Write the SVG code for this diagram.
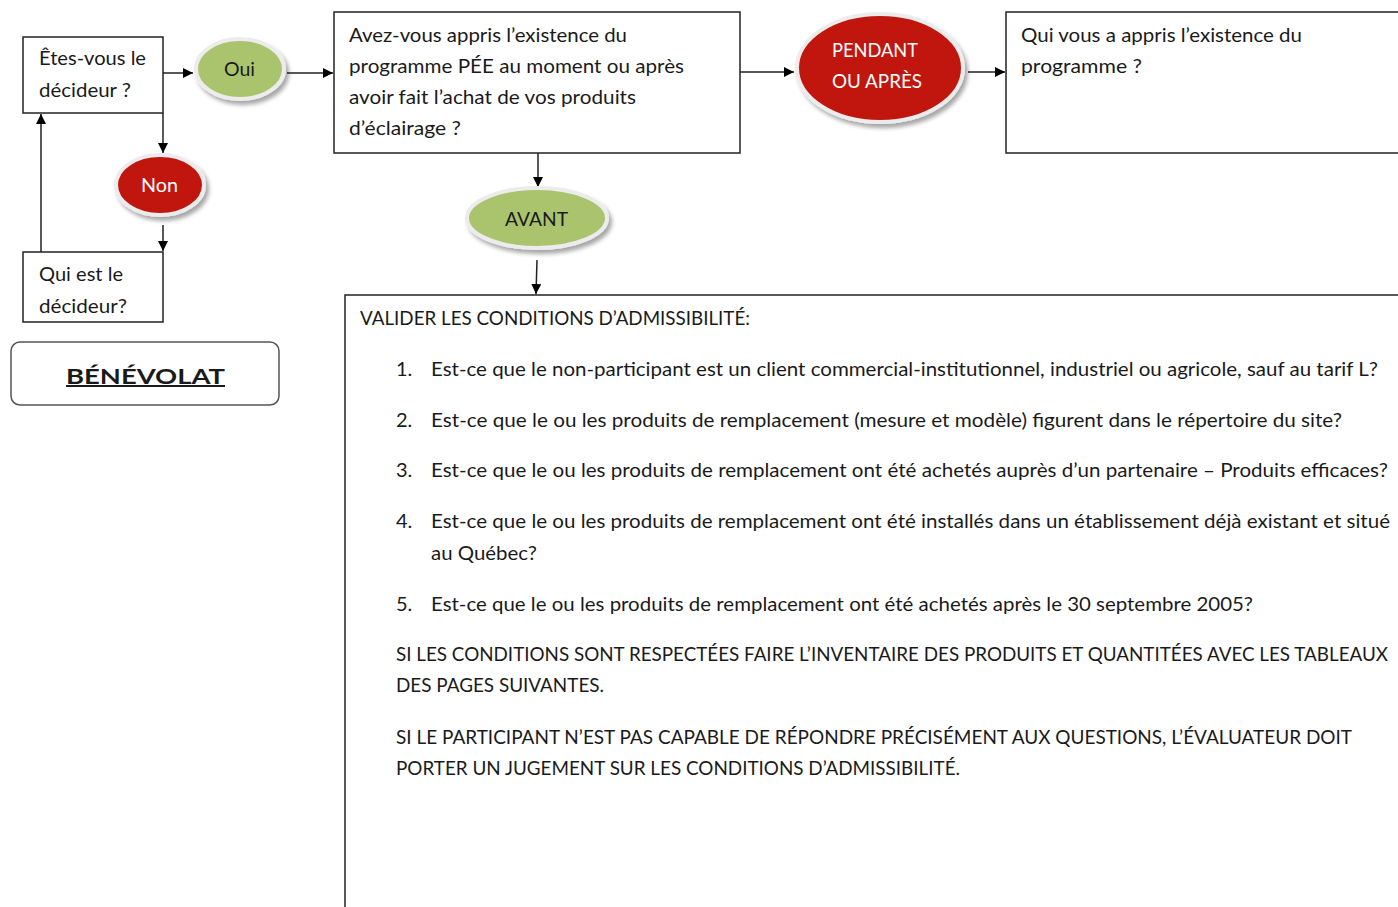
<svg xmlns="http://www.w3.org/2000/svg" width="1398" height="907" viewBox="0 0 1398 907">
<defs>
<marker id="ah" viewBox="0 0 10 10" refX="10" refY="5" markerWidth="10" markerHeight="10" markerUnits="userSpaceOnUse" orient="auto">
<path d="M0,0 L10,5 L0,10 z" fill="#000"/>
</marker>
<filter id="sh" x="-20%" y="-20%" width="150%" height="150%">
<feGaussianBlur in="SourceAlpha" stdDeviation="2"/>
<feOffset dx="3" dy="4" result="b"/>
<feComponentTransfer><feFuncA type="linear" slope="0.35"/></feComponentTransfer>
<feMerge><feMergeNode/><feMergeNode in="SourceGraphic"/></feMerge>
</filter>
</defs>
<style>
text{font-family:Lato,"Open Sans","Liberation Sans",sans-serif;font-size:20px;fill:#1a1a1a}
.box{fill:#fff;stroke:#222;stroke-width:1.5}
.green{fill:#A9C46C;stroke:#ececec;stroke-width:4;filter:url(#sh)}
.red{fill:#C0180E;stroke:#ececec;stroke-width:4;filter:url(#sh)}
.wt{fill:#fff}
.conn line,.conn path{stroke:#222;stroke-width:1.5;fill:none;marker-end:url(#ah)}
</style>
<rect width="1398" height="907" fill="#fff"/>

<g class="conn">
<line x1="163" y1="73" x2="193" y2="73"/>
<line x1="287" y1="73" x2="333" y2="73"/>
<line x1="163" y1="113" x2="163" y2="153"/>
<line x1="163" y1="225" x2="163" y2="251"/>
<line x1="41" y1="252" x2="41" y2="114"/>
<line x1="740" y1="72" x2="794" y2="72"/>
<line x1="968" y1="72" x2="1005" y2="72"/>
<line x1="538" y1="153" x2="538" y2="187"/>
<line x1="537" y1="260" x2="536" y2="294"/>
</g>

<g id="decideur">
<rect class="box" x="23" y="37" width="140" height="76"/>
<text x="39" y="65" textLength="107" lengthAdjust="spacingAndGlyphs">Êtes-vous le</text>
<text x="39" y="97" textLength="92" lengthAdjust="spacingAndGlyphs">décideur ?</text>
</g>

<g id="oui">
<ellipse class="green" cx="240" cy="69" rx="44" ry="30"/>
<text x="239.5" y="76" text-anchor="middle" textLength="31" lengthAdjust="spacingAndGlyphs">Oui</text>
</g>

<g id="non">
<ellipse class="red" cx="160" cy="185" rx="44" ry="30"/>
<text class="wt" x="159.5" y="192" text-anchor="middle" textLength="37" lengthAdjust="spacingAndGlyphs">Non</text>
</g>

<g id="qui-decideur">
<rect class="box" x="23" y="252" width="140" height="70"/>
<text x="39" y="281" textLength="84" lengthAdjust="spacingAndGlyphs">Qui est le</text>
<text x="39" y="313" textLength="88" lengthAdjust="spacingAndGlyphs">décideur?</text>
</g>

<g id="benevolat">
<rect x="11" y="342" width="268" height="63" rx="9" ry="9" fill="#fff" stroke="#555" stroke-width="1.5"/>
<text x="145.5" y="384" text-anchor="middle" font-weight="bold" font-size="35" text-decoration="underline" textLength="159" lengthAdjust="spacingAndGlyphs">BÉNÉVOLAT</text>
</g>

<g id="question-pee">
<rect class="box" x="334" y="12" width="406" height="141"/>
<text x="349" y="42" textLength="278" lengthAdjust="spacingAndGlyphs">Avez-vous appris l’existence du</text>
<text x="349" y="73" textLength="335" lengthAdjust="spacingAndGlyphs">programme PÉE au moment ou après</text>
<text x="349" y="104" textLength="287" lengthAdjust="spacingAndGlyphs">avoir fait l’achat de vos produits</text>
<text x="349" y="135" textLength="112" lengthAdjust="spacingAndGlyphs">d’éclairage ?</text>
</g>

<g id="pendant">
<ellipse class="red" cx="880" cy="68" rx="83" ry="54"/>
<text class="wt" x="875" y="57" text-anchor="middle" textLength="86" lengthAdjust="spacingAndGlyphs">PENDANT</text>
<text class="wt" x="877" y="88" text-anchor="middle" textLength="90" lengthAdjust="spacingAndGlyphs">OU APRÈS</text>
</g>

<g id="qui-vous">
<rect class="box" x="1006" y="12" width="400" height="141"/>
<text x="1021" y="42" textLength="281" lengthAdjust="spacingAndGlyphs">Qui vous a appris l’existence du</text>
<text x="1021" y="73" textLength="121" lengthAdjust="spacingAndGlyphs">programme ?</text>
</g>

<g id="avant">
<ellipse class="green" cx="537" cy="218" rx="70" ry="30"/>
<text x="536.5" y="226" text-anchor="middle" textLength="63" lengthAdjust="spacingAndGlyphs">AVANT</text>
</g>

<g id="conditions">
<rect class="box" x="345" y="295" width="1070" height="630"/>
<text x="360" y="325" textLength="390" lengthAdjust="spacingAndGlyphs">VALIDER LES CONDITIONS D’ADMISSIBILITÉ:</text>
<text x="396" y="376">1.</text>
<text x="431" y="376" textLength="947" lengthAdjust="spacingAndGlyphs">Est-ce que le non-participant est un client commercial-institutionnel, industriel ou agricole, sauf au tarif L?</text>
<text x="396" y="427">2.</text>
<text x="431" y="427" textLength="911" lengthAdjust="spacingAndGlyphs">Est-ce que le ou les produits de remplacement (mesure et modèle) figurent dans le répertoire du site?</text>
<text x="396" y="477">3.</text>
<text x="431" y="477" textLength="957" lengthAdjust="spacingAndGlyphs">Est-ce que le ou les produits de remplacement ont été achetés auprès d’un partenaire – Produits efficaces?</text>
<text x="396" y="528">4.</text>
<text x="431" y="528" textLength="959" lengthAdjust="spacingAndGlyphs">Est-ce que le ou les produits de remplacement ont été installés dans un établissement déjà existant et situé</text>
<text x="431" y="560" textLength="106" lengthAdjust="spacingAndGlyphs">au Québec?</text>
<text x="396" y="611">5.</text>
<text x="431" y="611" textLength="822" lengthAdjust="spacingAndGlyphs">Est-ce que le ou les produits de remplacement ont été achetés après le 30 septembre 2005?</text>
<text x="396" y="661" textLength="992" lengthAdjust="spacingAndGlyphs">SI LES CONDITIONS SONT RESPECTÉES FAIRE L’INVENTAIRE DES PRODUITS ET QUANTITÉES AVEC LES TABLEAUX</text>
<text x="396" y="692" textLength="208" lengthAdjust="spacingAndGlyphs">DES PAGES SUIVANTES.</text>
<text x="396" y="744" textLength="956" lengthAdjust="spacingAndGlyphs">SI LE PARTICIPANT N’EST PAS CAPABLE DE RÉPONDRE PRÉCISÉMENT AUX QUESTIONS, L’ÉVALUATEUR DOIT</text>
<text x="396" y="775" textLength="564" lengthAdjust="spacingAndGlyphs">PORTER UN JUGEMENT SUR LES CONDITIONS D’ADMISSIBILITÉ.</text>
</g>
</svg>
